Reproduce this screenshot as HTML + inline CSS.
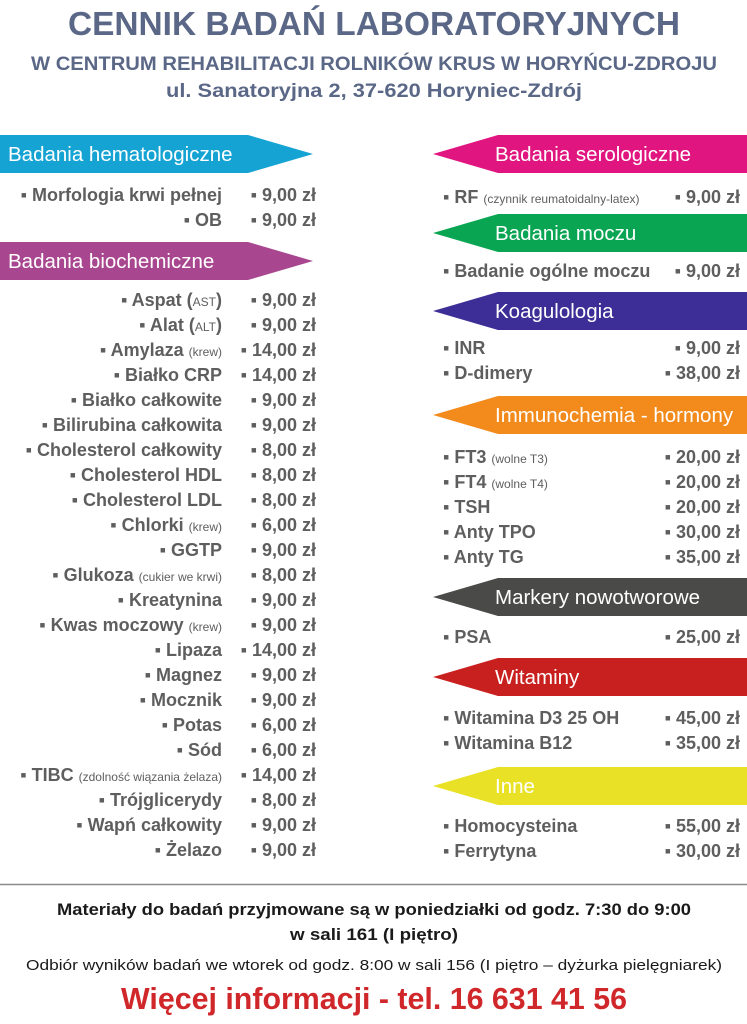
<!DOCTYPE html>
<html><head><meta charset="utf-8"><style>
html,body{margin:0;padding:0;background:#fff}
svg{display:block}
.t{font-family:"Liberation Sans",sans-serif;font-weight:bold;fill:#5e5e5e;font-size:18px}
.s{font-size:12px;font-weight:normal}
.b{font-family:"Liberation Sans",sans-serif;fill:#fff;font-size:20.5px}
</style></head><body>
<svg width="747" height="1024" viewBox="0 0 747 1024" xmlns="http://www.w3.org/2000/svg">
<g font-family="Liberation Sans, sans-serif" font-weight="bold" fill="#5a6786" text-anchor="middle">
<text x="374" y="35" font-size="33" textLength="612" lengthAdjust="spacingAndGlyphs">CENNIK BADAŃ LABORATORYJNYCH</text>
<text x="374" y="70" font-size="19" textLength="686" lengthAdjust="spacingAndGlyphs">W CENTRUM REHABILITACJI ROLNIKÓW KRUS W HORYŃCU-ZDROJU</text>
<text x="374" y="97" font-size="19" textLength="416" lengthAdjust="spacingAndGlyphs">ul. Sanatoryjna 2, 37-620 Horyniec-Zdrój</text>
</g>
<polygon points="0,135 248,135 313,154 248,173 0,173" fill="#15a3d4"/>
<text class="b" x="8" y="161">Badania hematologiczne</text>
<polygon points="0,242 248,242 313,261 248,280 0,280" fill="#a8478f"/>
<text class="b" x="8" y="268">Badania biochemiczne</text>
<polygon points="747,135 498,135 433,154 498,173 747,173" fill="#e0157f"/>
<text class="b" x="495" y="161">Badania serologiczne</text>
<polygon points="747,214 498,214 433,233 498,252 747,252" fill="#0aa553"/>
<text class="b" x="495" y="240">Badania moczu</text>
<polygon points="747,292 498,292 433,311 498,330 747,330" fill="#3c2d97"/>
<text class="b" x="495" y="318">Koagulologia</text>
<polygon points="747,396 498,396 433,415 498,434 747,434" fill="#f28a1c"/>
<text class="b" x="495" y="422">Immunochemia - hormony</text>
<polygon points="747,578 498,578 433,597 498,616 747,616" fill="#4a4a48"/>
<text class="b" x="495" y="604">Markery nowotworowe</text>
<polygon points="747,658 498,658 433,677 498,696 747,696" fill="#c8201f"/>
<text class="b" x="495" y="684">Witaminy</text>
<polygon points="747,767 498,767 433,786 498,805 747,805" fill="#e9e126"/>
<text class="b" x="495" y="793">Inne</text>

<g class="t">
<g text-anchor="end">
<text x="222" y="201">▪ Morfologia krwi pełnej</text>
<text x="222" y="226">▪ OB</text>
<text x="222" y="306">▪ Aspat (<tspan class="s">AST</tspan>)</text>
<text x="222" y="331">▪ Alat (<tspan class="s">ALT</tspan>)</text>
<text x="222" y="356">▪ Amylaza <tspan class="s">(krew)</tspan></text>
<text x="222" y="381">▪ Białko CRP</text>
<text x="222" y="406">▪ Białko całkowite</text>
<text x="222" y="431">▪ Bilirubina całkowita</text>
<text x="222" y="456">▪ Cholesterol całkowity</text>
<text x="222" y="481">▪ Cholesterol HDL</text>
<text x="222" y="506">▪ Cholesterol LDL</text>
<text x="222" y="531">▪ Chlorki <tspan class="s">(krew)</tspan></text>
<text x="222" y="556">▪ GGTP</text>
<text x="222" y="581">▪ Glukoza <tspan class="s">(cukier we krwi)</tspan></text>
<text x="222" y="606">▪ Kreatynina</text>
<text x="222" y="631">▪ Kwas moczowy <tspan class="s">(krew)</tspan></text>
<text x="222" y="656">▪ Lipaza</text>
<text x="222" y="681">▪ Magnez</text>
<text x="222" y="706">▪ Mocznik</text>
<text x="222" y="731">▪ Potas</text>
<text x="222" y="756">▪ Sód</text>
<text x="222" y="781">▪ TIBC <tspan class="s">(zdolność wiązania żelaza)</tspan></text>
<text x="222" y="806">▪ Trójglicerydy</text>
<text x="222" y="831">▪ Wapń całkowity</text>
<text x="222" y="856">▪ Żelazo</text>
<text x="316" y="201">▪ 9,00 zł</text>
<text x="316" y="226">▪ 9,00 zł</text>
<text x="316" y="306">▪ 9,00 zł</text>
<text x="316" y="331">▪ 9,00 zł</text>
<text x="316" y="356">▪ 14,00 zł</text>
<text x="316" y="381">▪ 14,00 zł</text>
<text x="316" y="406">▪ 9,00 zł</text>
<text x="316" y="431">▪ 9,00 zł</text>
<text x="316" y="456">▪ 8,00 zł</text>
<text x="316" y="481">▪ 8,00 zł</text>
<text x="316" y="506">▪ 8,00 zł</text>
<text x="316" y="531">▪ 6,00 zł</text>
<text x="316" y="556">▪ 9,00 zł</text>
<text x="316" y="581">▪ 8,00 zł</text>
<text x="316" y="606">▪ 9,00 zł</text>
<text x="316" y="631">▪ 9,00 zł</text>
<text x="316" y="656">▪ 14,00 zł</text>
<text x="316" y="681">▪ 9,00 zł</text>
<text x="316" y="706">▪ 9,00 zł</text>
<text x="316" y="731">▪ 6,00 zł</text>
<text x="316" y="756">▪ 6,00 zł</text>
<text x="316" y="781">▪ 14,00 zł</text>
<text x="316" y="806">▪ 8,00 zł</text>
<text x="316" y="831">▪ 9,00 zł</text>
<text x="316" y="856">▪ 9,00 zł</text>
<text x="740" y="203">▪ 9,00 zł</text>
<text x="740" y="277">▪ 9,00 zł</text>
<text x="740" y="354">▪ 9,00 zł</text>
<text x="740" y="379">▪ 38,00 zł</text>
<text x="740" y="463">▪ 20,00 zł</text>
<text x="740" y="488">▪ 20,00 zł</text>
<text x="740" y="513">▪ 20,00 zł</text>
<text x="740" y="538">▪ 30,00 zł</text>
<text x="740" y="563">▪ 35,00 zł</text>
<text x="740" y="643">▪ 25,00 zł</text>
<text x="740" y="724">▪ 45,00 zł</text>
<text x="740" y="749">▪ 35,00 zł</text>
<text x="740" y="832">▪ 55,00 zł</text>
<text x="740" y="857">▪ 30,00 zł</text>
</g>
<text x="443" y="203">▪ RF <tspan class="s">(czynnik reumatoidalny-latex)</tspan></text>
<text x="443" y="277">▪ Badanie ogólne moczu</text>
<text x="443" y="354">▪ INR</text>
<text x="443" y="379">▪ D-dimery</text>
<text x="443" y="463">▪ FT3 <tspan class="s">(wolne T3)</tspan></text>
<text x="443" y="488">▪ FT4 <tspan class="s">(wolne T4)</tspan></text>
<text x="443" y="513">▪ TSH</text>
<text x="443" y="538">▪ Anty TPO</text>
<text x="443" y="563">▪ Anty TG</text>
<text x="443" y="643">▪ PSA</text>
<text x="443" y="724">▪ Witamina D3 25 OH</text>
<text x="443" y="749">▪ Witamina B12</text>
<text x="443" y="832">▪ Homocysteina</text>
<text x="443" y="857">▪ Ferrytyna</text>
</g>

<line x1="0" y1="884.5" x2="747" y2="884.5" stroke="#8a8a8a" stroke-width="1.5"/>
<g font-family="Liberation Sans, sans-serif" text-anchor="middle">
<text x="374" y="915" font-size="17" font-weight="bold" fill="#1a1a1a" textLength="634" lengthAdjust="spacingAndGlyphs">Materiały do badań przyjmowane są w poniedziałki od godz. 7:30 do 9:00</text>
<text x="374" y="940" font-size="17" font-weight="bold" fill="#1a1a1a" textLength="168" lengthAdjust="spacingAndGlyphs">w sali 161 (I piętro)</text>
<text x="374" y="970" font-size="15" fill="#1a1a1a" textLength="696" lengthAdjust="spacingAndGlyphs">Odbiór wyników badań we wtorek od godz. 8:00 w sali 156 (I piętro – dyżurka pielęgniarek)</text>
<text x="374" y="1009" font-size="31" font-weight="bold" fill="#d0272a" textLength="506" lengthAdjust="spacingAndGlyphs">Więcej informacji - tel. 16 631 41 56</text>
</g>
</svg>
</body></html>
